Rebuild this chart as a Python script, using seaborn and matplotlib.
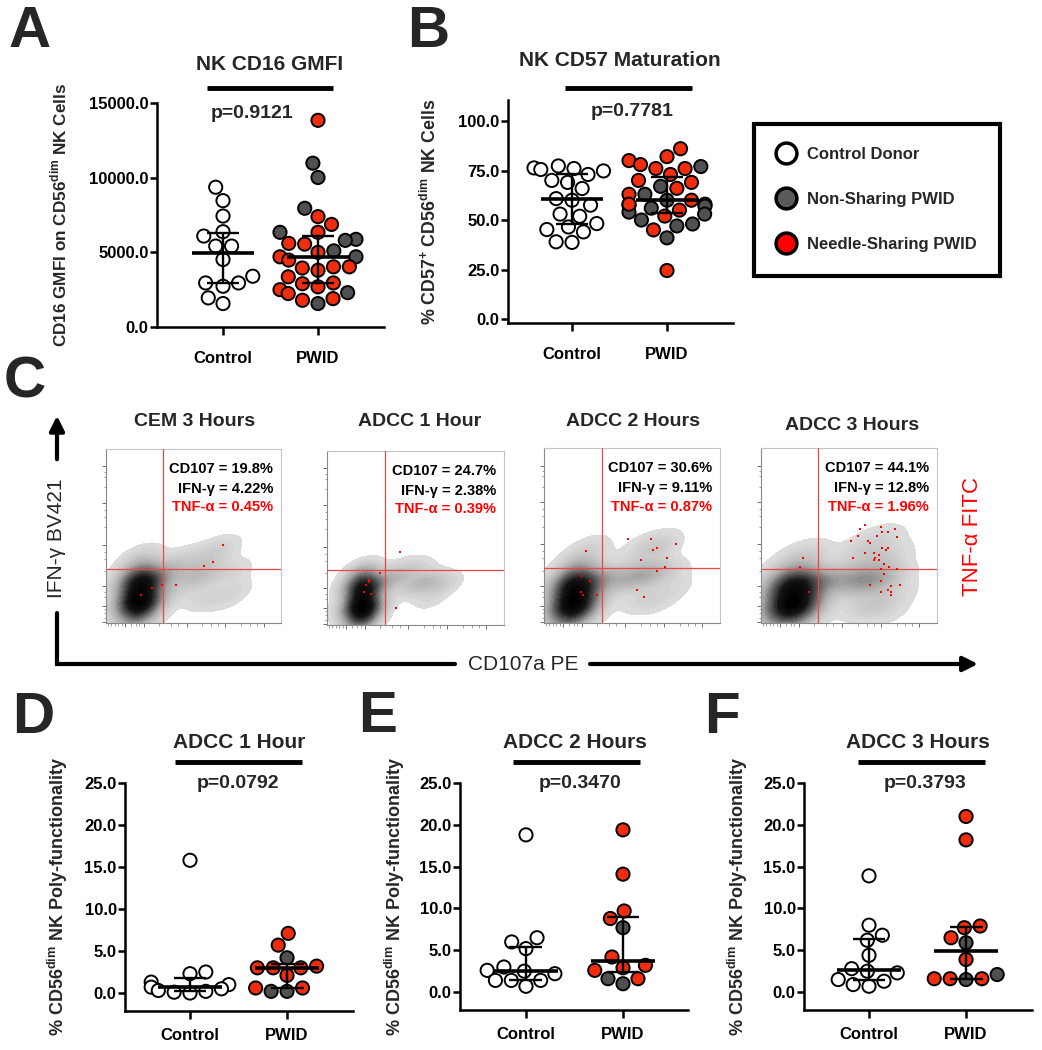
import numpy as np
import pandas as pd
import matplotlib
matplotlib.use("Agg")
import matplotlib.pyplot as plt
import seaborn as sns
from matplotlib.lines import Line2D
from matplotlib.colors import LinearSegmentedColormap

sns.set_theme(style="ticks")
plt.rcParams["font.family"] = ["Liberation Sans", "DejaVu Sans"]
plt.rcParams["mathtext.fontset"] = "custom"
plt.rcParams["mathtext.rm"] = "Liberation Sans"
plt.rcParams["mathtext.bf"] = "Liberation Sans:bold"

W, H = 1042, 1050

groups = ["Control", "PWID"]
subgroups = ["Control Donor", "Non-Sharing PWID", "Needle-Sharing PWID"]
point_colors = {"Control Donor": "#ffffff", "Non-Sharing PWID": "#505050",
                "Needle-Sharing PWID": "#f22d0d"}
legend_colors = ["#ffffff", "#5a5a5a", "#ff0000"]

# A: NK CD16 GMFI
a_control = [9360, 8460, 7430, 6380, 6090, 5420, 5420, 4520, 3400, 2950, 2950, 2730, 1950, 1570]
a_nonshare = [10970, 10010, 7950, 6340, 5870, 5800, 5100, 4700, 2300, 1570]
a_share = [13840, 7390, 6870, 6340, 5600, 5550, 5000, 4700, 4480, 4030, 4030, 3950,
           3800, 3360, 2950, 2900, 2690, 2500, 2240, 1900, 1790]

# B: NK CD57 maturation
b_control = [77.3, 76.3, 76.0, 75.5, 74.8, 73.0, 70.0, 69.0, 65.9, 60.8, 60.0, 57.5,
             53.0, 51.9, 48.2, 46.5, 45.2, 44.0, 39.0, 38.7]
b_nonshare = [77, 67, 63, 60, 58, 57.5, 57, 56, 54, 53, 50, 48, 47, 41]
b_share = [86, 82, 80, 78, 76, 76, 73, 70, 69, 66, 63, 60, 58, 55, 52, 45, 24.5]

# D-F: poly-functionality after ADCC
d_control = [15.8, 2.5, 2.3, 1.3, 1.0, 0.7, 0.5, 0.3, 0.2, 0.1, 0.0]
d_nonshare = [4.2, 0.2, 0.2]
d_share = [7.1, 5.7, 3.2, 3.0, 3.0, 3.0, 2.1, 0.6, 0.6]

e_control = [18.8, 6.5, 6.0, 5.2, 3.0, 2.6, 2.5, 2.2, 1.4, 1.4, 1.4, 0.7]
e_nonshare = [7.7, 1.6, 1.0]
e_share = [19.4, 14.1, 9.7, 8.8, 4.2, 3.2, 2.9, 2.6, 1.6]

f_control = [13.9, 8.0, 6.8, 6.2, 4.4, 2.8, 2.5, 2.3, 1.5, 1.3, 0.9, 0.7]
f_nonshare = [5.9, 2.1, 1.5]
f_share = [21.0, 18.2, 7.9, 7.7, 6.5, 3.9, 1.6, 1.6, 1.6]

# C: flow plots (density anchors + TNF-alpha+ events, axis fraction units)
flow_titles = ["CEM 3 Hours", "ADCC 1 Hour", "ADCC 2 Hours", "ADCC 3 Hours"]
flow_stats = [("CD107 = 19.8%", "IFN-\u03b3 = 4.22%", "TNF-\u03b1 = 0.45%"),
              ("CD107 = 24.7%", "IFN-\u03b3 = 2.38%", "TNF-\u03b1 = 0.39%"),
              ("CD107 = 30.6%", "IFN-\u03b3 = 9.11%", "TNF-\u03b1 = 0.87%"),
              ("CD107 = 44.1%", "IFN-\u03b3 = 12.8%", "TNF-\u03b1 = 1.96%")]
blob_x = [
    [0.19, 0.19, 0.19, 0.19, 0.19, 0.19, 0.14, 0.24, 0.14, 0.24, 0.20, 0.32, 0.38, 0.42,
     0.50, 0.56, 0.60, 0.66, 0.72, 0.56, 0.46, 0.68, 0.74],
    [0.20, 0.20, 0.20, 0.20, 0.20, 0.20, 0.15, 0.25, 0.15, 0.25, 0.34, 0.42, 0.48,
     0.55, 0.62, 0.68, 0.52, 0.58, 0.44],
    [0.17, 0.17, 0.17, 0.17, 0.17, 0.17, 0.12, 0.22, 0.12, 0.22, 0.22, 0.26, 0.32, 0.40,
     0.46, 0.54, 0.60, 0.62, 0.66, 0.56, 0.70, 0.56, 0.64, 0.74],
    [0.18, 0.18, 0.18, 0.18, 0.18, 0.18, 0.13, 0.23, 0.13, 0.23, 0.23, 0.27, 0.34, 0.42,
     0.48, 0.56, 0.62, 0.64, 0.70, 0.60, 0.68, 0.62, 0.68, 0.74, 0.56, 0.76, 0.70]]
blob_y = [
    [0.03, 0.09, 0.15, 0.21, 0.27, 0.32, 0.12, 0.12, 0.24, 0.24, 0.38, 0.25, 0.32, 0.20,
     0.30, 0.27, 0.38, 0.44, 0.30, 0.14, 0.38, 0.14, 0.20],
    [0.02, 0.08, 0.14, 0.20, 0.26, 0.31, 0.10, 0.10, 0.22, 0.22, 0.26, 0.28, 0.22,
     0.25, 0.24, 0.24, 0.33, 0.15, 0.34],
    [0.02, 0.08, 0.14, 0.20, 0.26, 0.31, 0.10, 0.10, 0.22, 0.22, 0.38, 0.44, 0.24, 0.27,
     0.24, 0.27, 0.28, 0.40, 0.46, 0.44, 0.28, 0.14, 0.12, 0.20],
    [0.02, 0.08, 0.14, 0.20, 0.26, 0.31, 0.10, 0.10, 0.22, 0.22, 0.38, 0.42, 0.24, 0.25,
     0.25, 0.24, 0.22, 0.32, 0.26, 0.10, 0.10, 0.42, 0.50, 0.40, 0.40, 0.18, 0.04]]
blob_w = [
    [5, 7, 8, 7, 5, 2.5, 3, 3, 2, 3, 1.2, 2, 1.5, 1.2, 1.5, 2, 1.3, 0.9, 1, 1, 0.8, 0.7, 0.6],
    [6, 8, 8, 7, 5, 2.5, 3, 3, 2, 3, 2, 1.5, 1.3, 2, 1.3, 0.8, 0.8, 0.8, 0.6],
    [5, 7, 8, 7, 5, 2.5, 3, 3, 2, 3, 1.2, 0.6, 2, 1.6, 1.4, 2, 2.2, 1.3, 0.9, 0.7, 1, 1, 0.7, 0.6],
    [6, 8, 9, 8, 5, 2.5, 3.5, 3.5, 2.5, 3, 1.2, 0.6, 2, 1.8, 1.8, 2.5, 3, 2.5, 2, 1.5, 1.2,
     1.4, 1, 0.8, 0.8, 0.8, 0.6]]
tnf_x = [[0.67, 0.61, 0.56, 0.40, 0.32, 0.26, 0.20],
         [0.41, 0.30, 0.24, 0.24, 0.22, 0.21, 0.25, 0.39],
         [0.48, 0.24, 0.61, 0.64, 0.62, 0.75, 0.55, 0.70, 0.69, 0.64, 0.21, 0.26, 0.21, 0.22, 0.30, 0.53, 0.57],
         [0.56, 0.59, 0.68, 0.69, 0.72, 0.76, 0.66, 0.77, 0.55, 0.51, 0.61, 0.62, 0.69, 0.72, 0.59, 0.64,
          0.67, 0.71, 0.65, 0.64, 0.67, 0.52, 0.70, 0.73, 0.68, 0.77, 0.70, 0.68, 0.62, 0.74, 0.79, 0.72,
          0.68, 0.74, 0.74, 0.24, 0.22, 0.27]]
tnf_y = [[0.45, 0.35, 0.33, 0.22, 0.22, 0.20, 0.16],
         [0.42, 0.30, 0.26, 0.25, 0.23, 0.19, 0.18, 0.10],
         [0.48, 0.41, 0.48, 0.43, 0.42, 0.45, 0.36, 0.37, 0.32, 0.30, 0.27, 0.24, 0.18, 0.16, 0.16, 0.19, 0.15],
         [0.54, 0.56, 0.55, 0.52, 0.52, 0.54, 0.50, 0.49, 0.50, 0.47, 0.47, 0.46, 0.43, 0.43, 0.40, 0.40,
          0.39, 0.42, 0.37, 0.36, 0.36, 0.37, 0.34, 0.32, 0.31, 0.31, 0.28, 0.24, 0.22, 0.21, 0.22, 0.19,
          0.18, 0.18, 0.16, 0.37, 0.32, 0.18]]
gate_x = [0.325, 0.326, 0.328, 0.326]
gate_y = [0.31, 0.316, 0.314, 0.31]

fig = plt.figure(figsize=(W / 100, H / 100), dpi=100)


def add_ax(left, top, right, bottom, **kw):
    return fig.add_axes([left / W, 1 - bottom / H, (right - left) / W, (bottom - top) / H], **kw)


def make_df(ctrl, non, share):
    rows = [("Control", "Control Donor", v) for v in ctrl]
    rows += [("PWID", "Non-Sharing PWID", v) for v in non]
    rows += [("PWID", "Needle-Sharing PWID", v) for v in share]
    return pd.DataFrame(rows, columns=["group", "subgroup", "value"])


def scatter_panel(box, ctrl, non, share, xlim, ylim, yticks, ylabel, ylabel_size,
                  ylabel_right, xpad):
    ax = add_ax(*box)
    df = make_df(ctrl, non, share)
    sns.swarmplot(data=df, x="group", y="value", hue="subgroup", order=groups,
                  hue_order=subgroups, palette=point_colors, size=9.5,
                  edgecolor="black", linewidth=1.4, legend=False, ax=ax, zorder=2)
    for i, g in enumerate(groups):
        vals = df.loc[df["group"] == g, "value"]
        q1, med, q3 = np.percentile(vals, [25, 50, 75])
        ax.hlines(med, i - 0.33, i + 0.33, color="black", lw=2.6, zorder=5)
        ax.vlines(i, q1, q3, color="black", lw=1.7, zorder=5)
        ax.hlines([q1, q3], i - 0.17, i + 0.17, color="black", lw=1.7, zorder=5)
    ax.set_xlim(*xlim)
    ax.set_ylim(*ylim)
    ax.set_yticks(yticks)
    ax.set_yticklabels([f"{t:.1f}" for t in yticks], fontsize=12, fontweight="bold")
    ax.set_xticks([0, 1])
    ax.set_xticklabels(groups, fontsize=12, fontweight="bold")
    ax.set_xlabel("")
    ax.set_ylabel(ylabel, fontsize=ylabel_size, fontweight="bold")
    ax.yaxis.set_label_coords((ylabel_right - box[0]) / (box[2] - box[0]), 0.5)
    sns.despine(ax=ax)
    for s in ["left", "bottom"]:
        ax.spines[s].set_linewidth(1.8)
        ax.spines[s].set_color("black")
    ax.tick_params(axis="y", length=5, width=1.8, pad=1, colors="black")
    ax.tick_params(axis="x", length=6, width=1.8, pad=xpad, colors="black")
    ax.set_facecolor("none")
    return ax


scatter_panel((157, 103, 384, 327), a_control, a_nonshare, a_share, (-0.695, 1.695),
              (0, 15000), [0, 5000, 10000, 15000],
              r"CD16 GMFI on CD56$^{\mathbf{dim}}$ NK Cells", 12.3, 69, 11)
scatter_panel((508, 100, 733, 323), b_control, b_nonshare, b_share, (-0.674, 1.695),
              (-2.0, 110.6), [0, 25, 50, 75, 100],
              r"% CD57$^{\mathbf{+}}$ CD56$^{\mathbf{dim}}$ NK Cells", 12.8, 440, 11)
poly_label = r"% CD56$^{\mathbf{dim}}$ NK Poly-functionality"
scatter_panel((125, 783, 353, 1011), d_control, d_nonshare, d_share, (-0.67, 1.68),
              (-2.14, 25), [0, 5, 10, 15, 20, 25], poly_label, 13, 70, 6.5)
scatter_panel((460, 783, 688, 1010), e_control, e_nonshare, e_share, (-0.68, 1.67),
              (-2.14, 25), [0, 5, 10, 15, 20, 25], poly_label, 13, 407, 6.5)
scatter_panel((804, 783, 1032, 1010), f_control, f_nonshare, f_share, (-0.67, 1.68),
              (-2.14, 25), [0, 5, 10, 15, 20, 25], poly_label, 13, 750, 6.5)

# flow panels
grey_cmap = LinearSegmentedColormap.from_list(
    "flow", ["#dddddd", "#a8a8a8", "#5a5a5a", "#151515", "#000000"])
flow_boxes = [(106, 449, 281, 623), (327, 451, 504, 625), (544, 448, 720, 623), (761, 448, 937, 623)]
for k, box in enumerate(flow_boxes):
    ax = add_ax(*box)
    sns.kdeplot(x=blob_x[k], y=blob_y[k], weights=blob_w[k], fill=True, levels=32,
                thresh=0.02, cmap=grey_cmap, bw_method=0.5, gridsize=160, ax=ax)
    sns.scatterplot(x=tnf_x[k], y=tnf_y[k], color="#ff0000", marker="s", s=3,
                    linewidth=0, ax=ax, zorder=4)
    ax.axvline(gate_x[k], color="#e94848", lw=0.9, zorder=3)
    ax.axhline(gate_y[k], color="#e94848", lw=0.9, zorder=3)
    ax.set_xlim(0, 1)
    ax.set_ylim(0, 1)
    ax.set_xlabel("")
    ax.set_ylabel("")
    ax.set_xticks([0.11, 0.215, 0.46, 0.68, 0.90])
    ax.set_xticks([0.01, 0.03, 0.05, 0.07, 0.09, 0.14, 0.17, 0.19, 0.30, 0.37, 0.41, 0.55, 0.60,
                   0.64, 0.77, 0.82, 0.86], minor=True)
    ax.set_yticks([0.004, 0.10, 0.21, 0.45, 0.69, 0.90])
    ax.set_yticks([0.03, 0.06, 0.08, 0.15, 0.18, 0.30, 0.37, 0.41, 0.55, 0.61, 0.65, 0.78, 0.84, 0.87], minor=True)
    ax.set_xticklabels([])
    ax.set_yticklabels([])
    ax.tick_params(which="major", length=3, width=0.6, colors="#555555")
    ax.tick_params(which="minor", length=1.8, width=0.5, colors="#777777")
    for s in ax.spines.values():
        s.set_color("#c4c4c4")
        s.set_linewidth(0.8)
    ax.spines["left"].set_color("#888888")
    ax.spines["bottom"].set_color("#888888")
    ys = [0.885, 0.77, 0.665]
    for j, txt in enumerate(flow_stats[k]):
        ax.text(0.955, ys[j], txt, transform=ax.transAxes, ha="right", va="center",
                fontsize=10.5, fontweight="bold", color="#ff0000" if j == 2 else "black")

# overlay for annotations in pixel coordinates
ov = fig.add_axes([0, 0, 1, 1], zorder=10)
ov.set_xlim(0, W)
ov.set_ylim(H, 0)
ov.axis("off")
ov.patch.set_alpha(0)

for letter, (x, y) in zip("ABCDEF", [(30, 32), (428, 32), (25, 382), (33, 718), (378, 717), (722, 718)]):
    ov.text(x, y, letter, fontsize=42, fontweight="bold", ha="center", va="center")

heads = [("NK CD16 GMFI", 270, 65, 207, 333, 88, "p=0.9121", 252, 113),
         ("NK CD57 Maturation", 620, 61, 565, 692, 88, "p=0.7781", 632, 112),
         ("ADCC 1 Hour", 239, 743, 175, 302, 762, "p=0.0792", 238, 783),
         ("ADCC 2 Hours", 575, 743, 513, 640, 762, "p=0.3470", 580, 783),
         ("ADCC 3 Hours", 918, 743, 858, 985, 762, "p=0.3793", 925, 783)]
for title, tx, ty, x0, x1, ly, ptxt, px, py in heads:
    ov.text(tx, ty, title, fontsize=15, fontweight="bold", ha="center", va="center")
    ov.plot([x0, x1], [ly, ly], color="black", lw=3.5, solid_capstyle="butt")
    ov.text(px, py, ptxt, fontsize=14, fontweight="bold", ha="center", va="center")

for title, x, y in zip(flow_titles, [195, 420, 633, 852], [422, 422, 422, 425]):
    ov.text(x, y, title, fontsize=14, fontweight="bold", ha="center", va="center")

# axis arrows of panel C
ov.annotate("", xy=(57, 413), xytext=(57, 462),
            arrowprops=dict(arrowstyle="-|>", lw=3, color="black", mutation_scale=22))
ov.plot([57, 57, 455], [613, 664, 664], color="black", lw=3, solid_joinstyle="miter")
ov.annotate("", xy=(978, 664), xytext=(590, 664),
            arrowprops=dict(arrowstyle="-|>", lw=3, color="black", mutation_scale=22,
                            shrinkA=0, shrinkB=0))
ov.text(523, 664, "CD107a PE", fontsize=15, ha="center", va="center")
ov.text(57, 538, "IFN-\u03b3 BV421", fontsize=15, rotation=90, ha="center", va="center")
ov.text(973, 537, "TNF-\u03b1 FITC", fontsize=16, rotation=90, ha="center", va="center",
        color="#ff0000")

# legend
handles = [Line2D([0], [0], marker="o", ls="", markersize=15, markerfacecolor=c,
                  markeredgecolor="black", markeredgewidth=2.5) for c in legend_colors]
leg = fig.legend(handles, subgroups, loc="upper left", bbox_to_anchor=(754 / W, 1 - 124 / H),
                 frameon=True, fancybox=False, edgecolor="black", framealpha=1,
                 borderpad=1.4, labelspacing=1.8, handlelength=1.0, handletextpad=0.8,
                 borderaxespad=0, prop=dict(weight="bold", size=12))
leg.get_frame().set_linewidth(3)

fig.savefig("out.png", dpi=100, facecolor="white")
